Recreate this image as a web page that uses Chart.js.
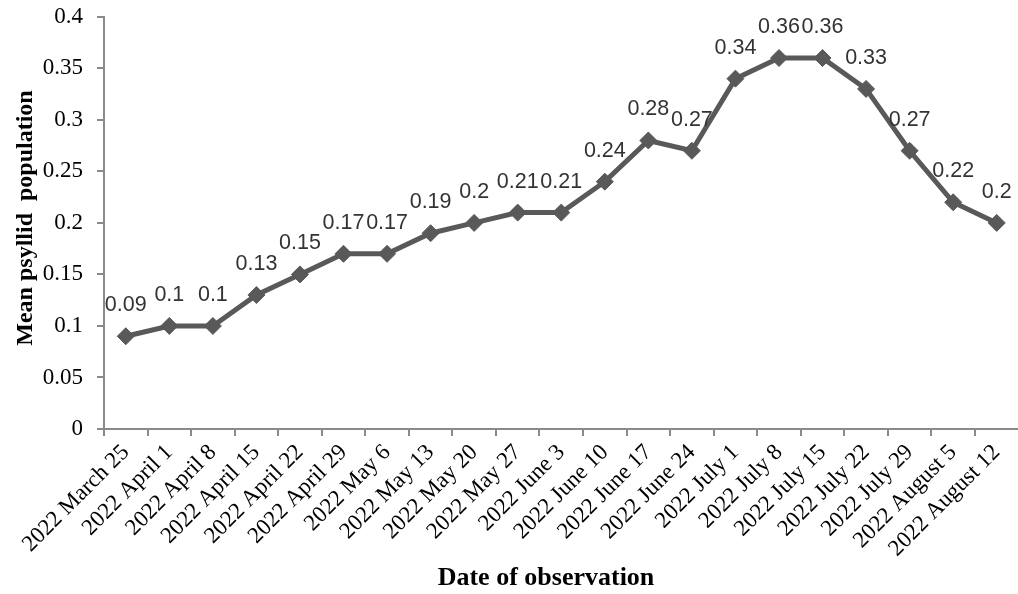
<!DOCTYPE html>
<html><head><meta charset="utf-8">
<script src="https://cdn.jsdelivr.net/npm/chart.js@4"></script>
<style>html,body{margin:0;padding:0;background:#fff;overflow:hidden}#c{display:block;margin-top:-11px}</style>
</head><body>
<canvas id="c" width="1028" height="605"></canvas>
<script>
const categories = ["2022 March 25","2022 April 1","2022 April 8","2022 April 15","2022 April 22","2022 April 29","2022 May 6","2022 May 13","2022 May 20","2022 May 27","2022 June 3","2022 June 10","2022 June 17","2022 June 24","2022 July 1","2022 July 8","2022 July 15","2022 July 22","2022 July 29","2022 August 5","2022 August 12"];
const meanPsyllid = [0.09,0.1,0.1,0.13,0.15,0.17,0.17,0.19,0.2,0.21,0.21,0.24,0.28,0.27,0.34,0.36,0.36,0.33,0.27,0.22,0.2];
const yTickLabels = ["0","0.05","0.1","0.15","0.2","0.25","0.3","0.35","0.4"];
const xTitle = "Date of observation";
const yTitle = "Mean psyllid  population";

const AXIS = '#8a8a8a';
const labelPlugin = {
  id: 'lbl',
  afterDatasetsDraw(chart) {
    const ctx = chart.ctx, meta = chart.getDatasetMeta(0);
    ctx.save();
    ctx.font = '21.5px "Liberation Sans"';
    ctx.fillStyle = '#333333';
    ctx.textAlign = 'center';
    ctx.textBaseline = 'alphabetic';
    meta.data.forEach((p, i) => ctx.fillText(String(meanPsyllid[i]), p.x, p.y - 25));
    ctx.restore();
  },
  afterDraw(chart) {
    const ctx = chart.ctx;
    ctx.save();
    ctx.fillStyle = '#000';
    ctx.font = 'bold 26px "Liberation Serif"';
    ctx.textAlign = 'center';
    ctx.textBaseline = 'alphabetic';
    ctx.fillText(xTitle, 546, 596);
    ctx.translate(32, 229);
    ctx.rotate(-Math.PI / 2);
    ctx.font = 'bold 24px "Liberation Serif"';
    ctx.fillText(yTitle, 0, 0);
    ctx.restore();
  }
};

new Chart(document.getElementById('c'), {
  type: 'line',
  data: {
    labels: categories,
    datasets: [{
      data: meanPsyllid,
      borderColor: '#595959',
      backgroundColor: '#595959',
      borderWidth: 5,
      pointStyle: 'rectRot',
      pointRadius: 8.5,
      pointBackgroundColor: '#595959',
      pointBorderColor: '#595959',
      pointBorderWidth: 1,
      tension: 0,
      fill: false
    }]
  },
  options: {
    responsive: false,
    animation: false,
    devicePixelRatio: 1,
    layout: { padding: { top: 5, right: 0, left: 0, bottom: 0 } },
    plugins: { legend: { display: false }, tooltip: { enabled: false } },
    scales: {
      x: {
        type: 'category',
        offset: true,
        grid: { offset: true, drawOnChartArea: false, drawTicks: true, tickLength: 7, color: AXIS, lineWidth: 2 },
        border: { color: AXIS, width: 2 },
        ticks: { autoSkip: false, minRotation: 45, maxRotation: 45, padding: 3, color: '#000', font: { family: 'Liberation Serif', size: 23 } },
        afterFit(s) { s.height = 165; }
      },
      y: {
        min: 0, max: 0.4,
        grid: { drawOnChartArea: false, drawTicks: true, tickLength: 7, color: AXIS, lineWidth: 2 },
        border: { color: AXIS, width: 2 },
        ticks: { stepSize: 0.05, padding: 14, color: '#000', font: { family: 'Liberation Serif', size: 23 },
          callback: (v, i) => yTickLabels[i] },
        afterFit(s) { s.width = 104; }
      }
    }
  },
  plugins: [labelPlugin]
});
</script>
</body></html>
